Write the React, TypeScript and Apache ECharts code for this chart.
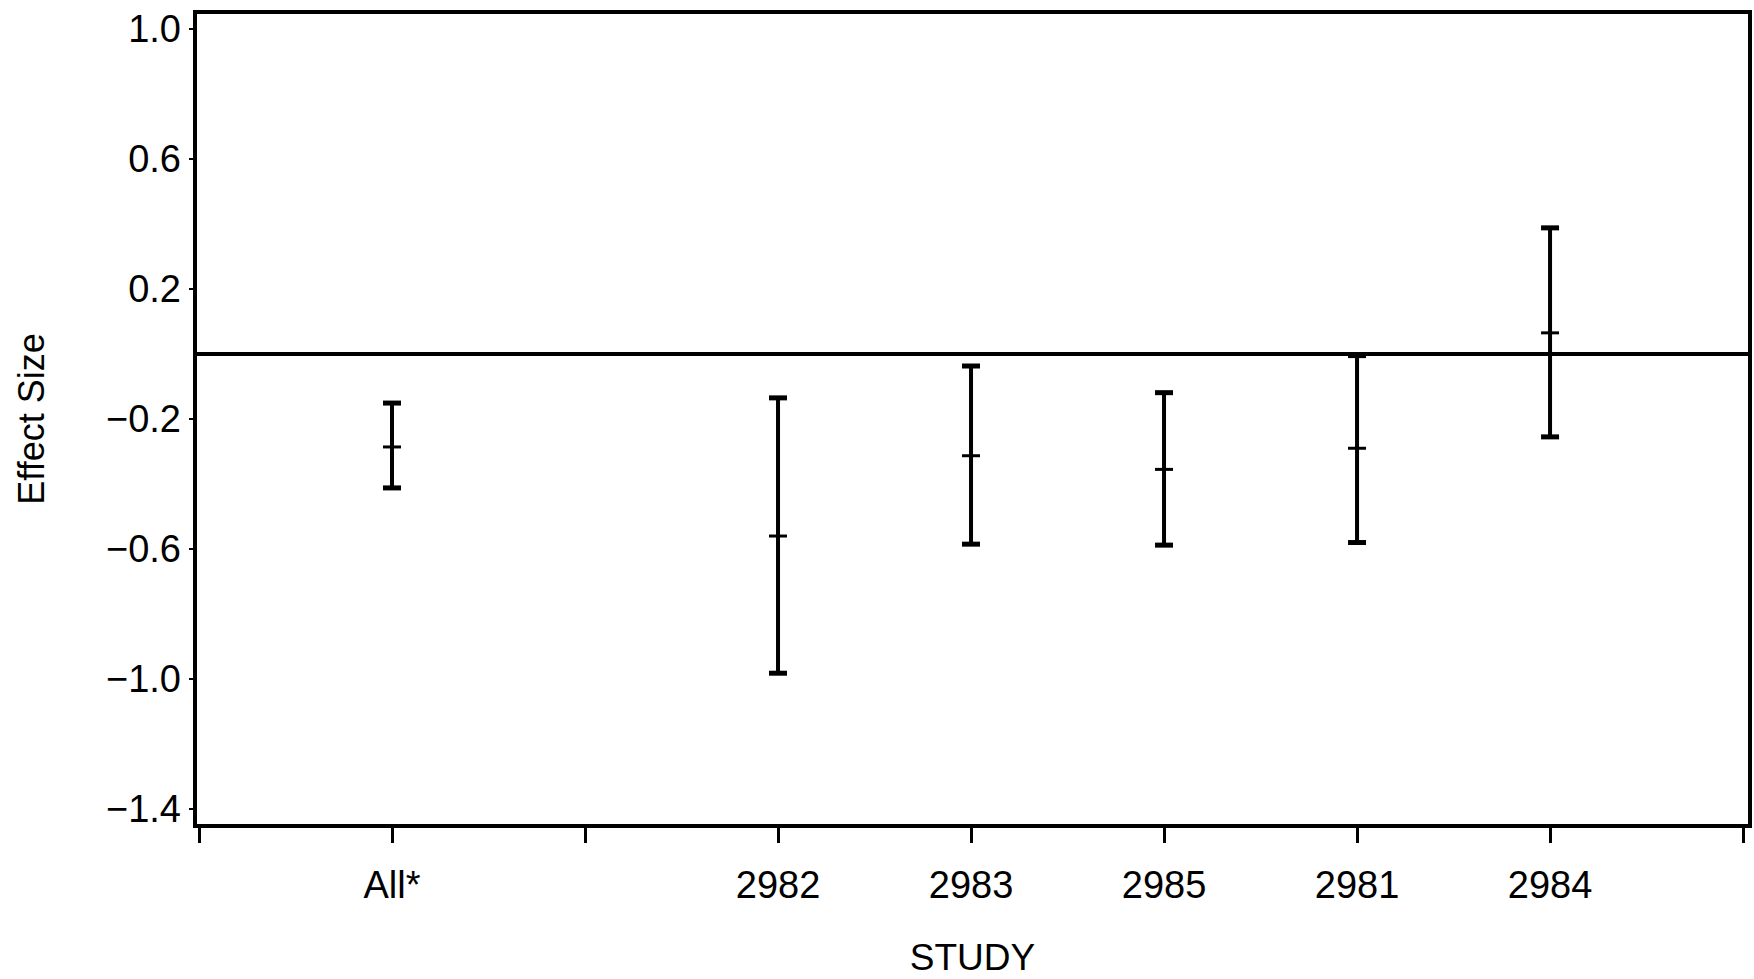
import React, { useEffect, useRef } from "react";
import * as echarts from "echarts";

// Tick slots along the STUDY axis (empty = unlabelled tick)
const tickSlots = ["", "All*", "", "2982", "2983", "2985", "2981", "2984", ""];
const studies = ["All*", "2982", "2983", "2985", "2981", "2984"];
const estimates = [-0.286, -0.56, -0.313, -0.355, -0.29, 0.065];
const lowerCI = [-0.412, -0.982, -0.585, -0.588, -0.58, -0.255];
const upperCI = [-0.151, -0.135, -0.037, -0.119, -0.005, 0.388];
const yTicks = [-1.4, -1.0, -0.6, -0.2, 0.2, 0.6, 1.0];
const referenceValue = [0];

const FONT = "'Liberation Sans', Arial, Helvetica, sans-serif";

export default function App() {
  const ref = useRef<HTMLDivElement>(null);

  useEffect(() => {
    if (!ref.current) return;
    const chart = echarts.init(ref.current, null, { renderer: "svg" });

    const data = studies.map((s, i) => [
      tickSlots.indexOf(s),
      lowerCI[i],
      estimates[i],
      upperCI[i],
    ]);
    const slotValues = tickSlots.map((_, i) => i);
    const labelledValues = tickSlots
      .map((t, i) => (t ? i : -1))
      .filter((i) => i >= 0);

    const fmtY = (v: number) =>
      v < 0 ? "\u2212" + Math.abs(v).toFixed(1) : v.toFixed(1);

    chart.setOption({
      animation: false,
      backgroundColor: "#ffffff",
      grid: {
        left: 195,
        right: 4,
        top: 12,
        bottom: 153,
        containLabel: false,
        outerBoundsMode: "none",
        show: true,
        borderColor: "#000",
        borderWidth: 4,
        backgroundColor: "transparent",
      },
      xAxis: {
        type: "value",
        min: -0.0207,
        max: 8.036,
        name: "STUDY",
        nameLocation: "middle",
        nameGap: 112,
        nameTextStyle: {
          color: "#000",
          fontSize: 37,
          lineHeight: 39,
          fontFamily: FONT,
        },
        axisLine: { show: false, onZero: false },
        splitLine: { show: false },
        axisTick: {
          show: true,
          customValues: slotValues,
          length: 17,
          lineStyle: { color: "#000", width: 3 },
        },
        axisLabel: {
          customValues: labelledValues,
          formatter: (v: number) => tickSlots[Math.round(v)] || "",
          color: "#000",
          fontSize: 38,
          fontFamily: FONT,
          margin: 40,
        },
      },
      yAxis: {
        type: "value",
        min: -1.452,
        max: 1.052,
        name: "Effect Size",
        nameLocation: "middle",
        nameRotate: 90,
        nameGap: 146,
        nameTextStyle: { color: "#000", fontSize: 36, fontFamily: FONT },
        axisLine: { show: false, onZero: false },
        splitLine: { show: false },
        axisTick: {
          show: true,
          customValues: yTicks,
          length: 6,
          lineStyle: { color: "#000", width: 2 },
        },
        axisLabel: {
          customValues: yTicks,
          formatter: fmtY,
          color: "#000",
          fontSize: 38,
          fontFamily: FONT,
          margin: 14,
        },
      },
      series: [
        {
          type: "custom",
          data,
          encode: { x: 0, y: [1, 2, 3] },
          renderItem: (params: any, api: any) => {
            const x = api.value(0);
            const lo = api.coord([x, api.value(1)]);
            const mid = api.coord([x, api.value(2)]);
            const hi = api.coord([x, api.value(3)]);
            const hw = 9;
            const style = { stroke: "#000", lineWidth: 4, fill: "none" };
            const hline = (p: number[], w: number) => ({
              type: "line",
              shape: { x1: p[0] - hw, y1: p[1], x2: p[0] + hw, y2: p[1] },
              style: { ...style, lineWidth: w },
            });
            return {
              type: "group",
              children: [
                {
                  type: "line",
                  shape: { x1: lo[0], y1: lo[1], x2: hi[0], y2: hi[1] },
                  style,
                },
                hline(lo, 5),
                hline(hi, 5),
                hline(mid, 3),
              ],
            };
          },
          markLine: {
            silent: true,
            symbol: "none",
            label: { show: false },
            lineStyle: { color: "#000", width: 4, type: "solid" },
            data: referenceValue.map((v) => ({ yAxis: v })),
          },
        },
      ],
    });

    return () => chart.dispose();
  }, []);

  return (
    <div
      ref={ref}
      style={{
        position: "fixed",
        left: 0,
        top: 0,
        width: 1754,
        height: 979,
        background: "#fff",
      }}
    />
  );
}
